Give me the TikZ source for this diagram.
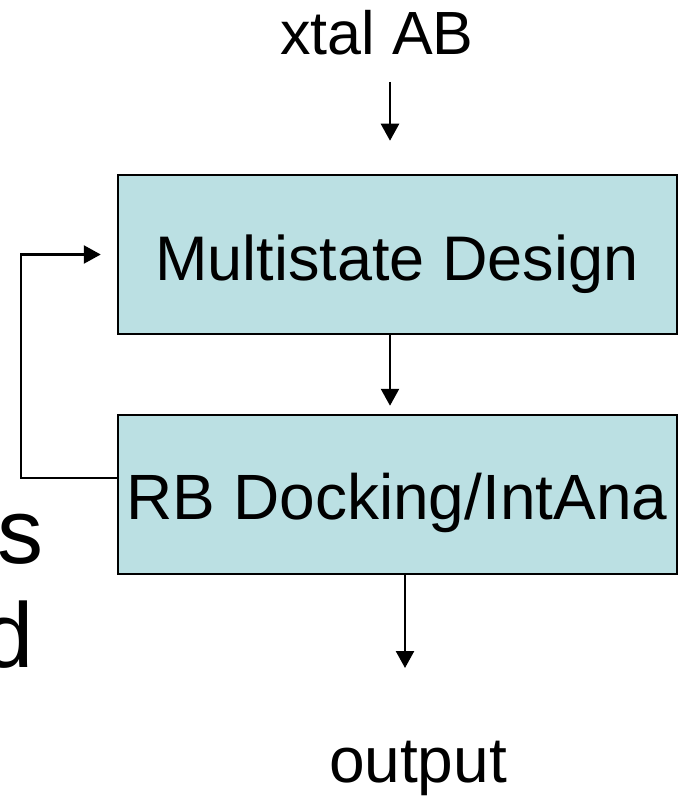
\documentclass[tikz,border=0pt]{standalone}
\usepackage{fontspec}
\setmainfont{Liberation Sans}
\usetikzlibrary{arrows.meta}
\definecolor{boxfill}{HTML}{BBE0E3}
\tikzset{
  stage/.style={draw=black, line width=2.5pt, fill=boxfill, minimum width=559pt,
    minimum height=159pt, inner sep=0pt},
  lbl/.style={inner sep=0pt, font=\fontsize{64}{72}\selectfont},
  biglbl/.style={inner sep=0pt, font=\fontsize{92}{100}\selectfont},
  flow/.style={line width=2.5pt, -{Triangle[width=18pt,length=17pt]}}
}
\begin{document}
\begin{tikzpicture}[x=1pt, y=-1pt]
\useasboundingbox (0,0) rectangle (685,802);

% stages
\node[stage] (md) at (397.5,254.5) {};
\node[stage] (rb) at (397.5,494.5) {};
\node[lbl, anchor=base, font=\fontsize{63}{72}\selectfont] (mdt) at (397,280) {Multistate Design};
\node[lbl, anchor=base] (rbt) at (397,519) {RB Docking/IntAna};

% input and output labels
\node[lbl, anchor=base, font=\fontsize{61}{70}\selectfont] (xtal) at (377,55) {xtal AB};
\node[lbl, anchor=base] (out) at (418,782) {output};

% partial words at the left margin
\node[biglbl, anchor=base west] (ls) at (-3,563) {s};
\node[biglbl, anchor=base west] (ld) at (-18,667) {d};

% connectors
\coordinate (inTop) at (390,82);
\coordinate (outEnd) at (405,668);
\draw[flow, shorten >=33pt] (inTop) -- (inTop |- md.north);
\draw[flow, shorten >=8pt] ([xshift=-7.5pt]md.south) -- ([xshift=-7.5pt]rb.north);
\draw[flow] (rb.south -| outEnd) -- (outEnd);
\draw[flow, shorten >=16pt] ([yshift=16.5pt]rb.west) -- ++(-96,0) |- (md.west);
\end{tikzpicture}
\end{document}
